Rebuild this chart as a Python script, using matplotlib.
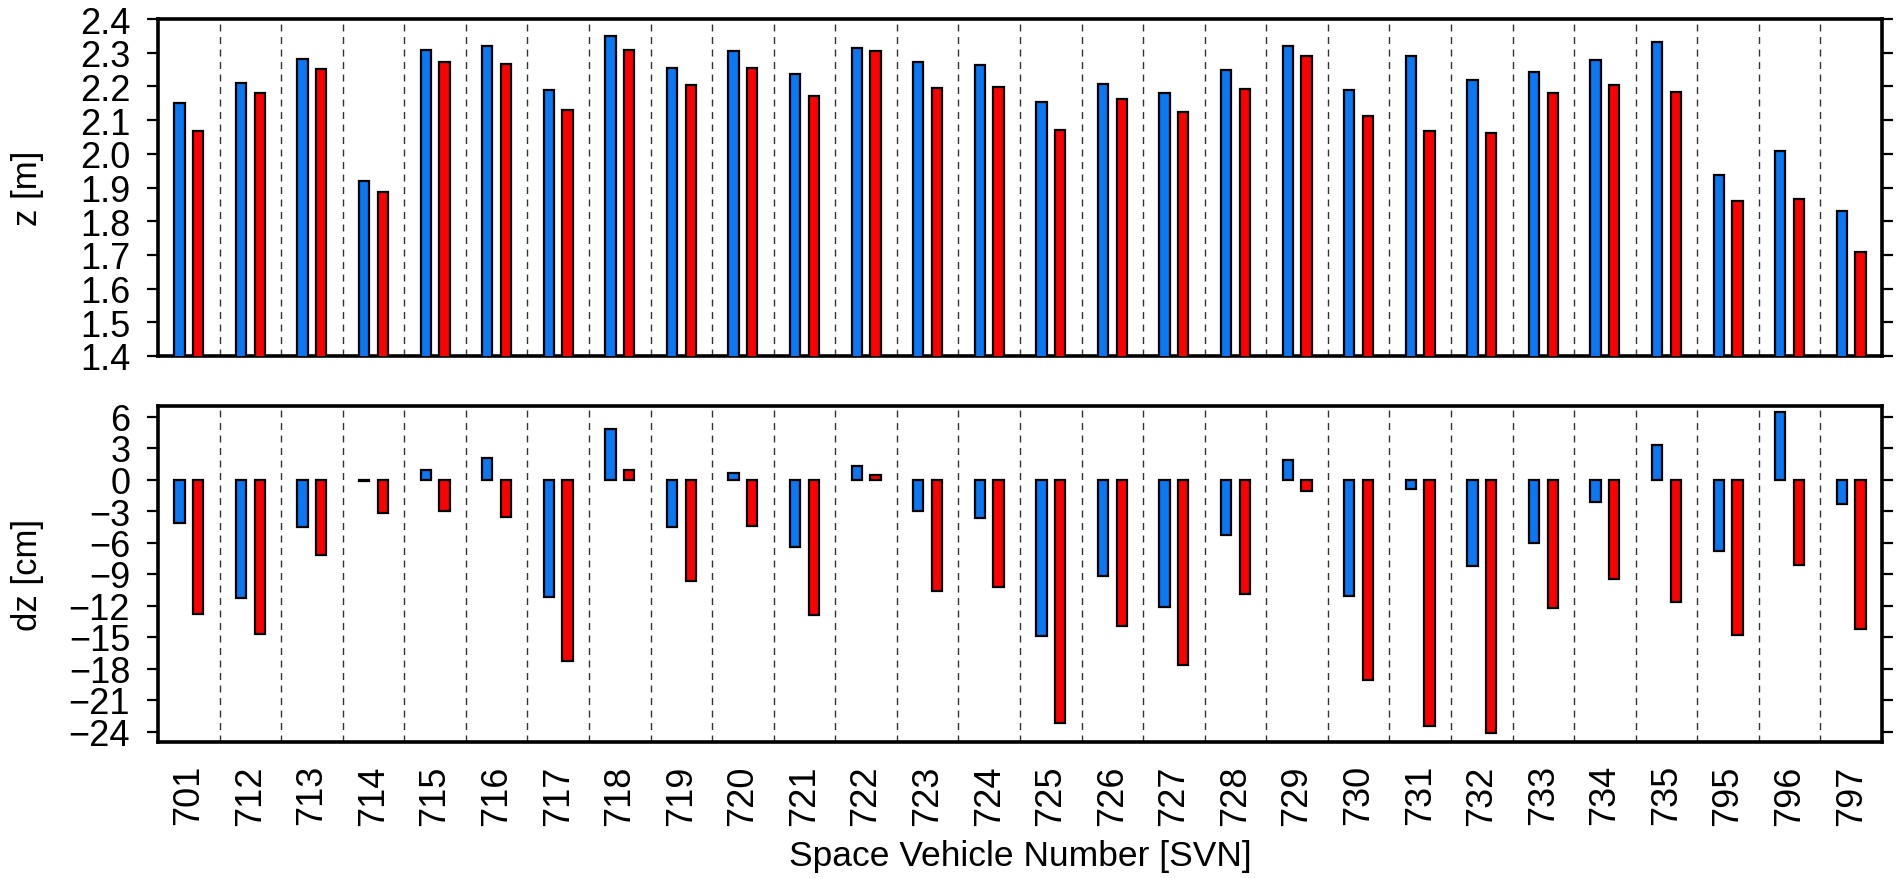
import matplotlib
matplotlib.use("Agg")
import matplotlib.pyplot as plt
import numpy as np

plt.rcParams['font.family'] = ['Liberation Sans', 'DejaVu Sans']

TICK_SIZE = 26

svn = ["701", "712", "713", "714", "715", "716", "717", "718", "719", "720",
       "721", "722", "723", "724", "725", "726", "727", "728", "729", "730",
       "731", "732", "733", "734", "735", "795", "796", "797"]

z_blue = [2.152, 2.210, 2.280, 1.919, 2.308, 2.321, 2.189, 2.349, 2.254, 2.306,
          2.236, 2.313, 2.271, 2.264, 2.154, 2.208, 2.180, 2.248, 2.319, 2.190,
          2.291, 2.219, 2.242, 2.278, 2.333, 1.938, 2.008, 1.831]
z_red = [2.068, 2.179, 2.253, 1.887, 2.271, 2.265, 2.129, 2.308, 2.203, 2.255,
         2.172, 2.304, 2.194, 2.198, 2.070, 2.163, 2.125, 2.191, 2.290, 2.111,
         2.068, 2.061, 2.179, 2.204, 2.184, 1.861, 1.865, 1.710]

dz_blue = [-4.18, -11.27, -4.56, -0.15, 0.89, 2.03, -11.2, 4.81, -4.56, 0.6,
           -6.46, 1.3, -3.0, -3.64, -14.9, -9.18, -12.15, -5.32, 1.87, -11.14,
           -0.95, -8.2, -6.08, -2.18, 3.32, -6.84, 6.46, -2.31]
dz_red = [-12.78, -14.75, -7.18, -3.2, -2.97, -3.54, -17.3, 0.92, -9.62, -4.46,
          -12.94, 0.4, -10.63, -10.22, -23.16, -13.92, -17.69, -10.92, -1.14, -19.1,
          -23.5, -24.1, -12.25, -9.49, -11.65, -14.84, -8.13, -14.27]

z_ticks = [1.4, 1.5, 1.6, 1.7, 1.8, 1.9, 2.0, 2.1, 2.2, 2.3, 2.4]
dz_ticks = [6, 3, 0, -3, -6, -9, -12, -15, -18, -21, -24]

BLUE = '#0A78F5'
RED = '#FF0000'

fig = plt.figure(figsize=(18.98, 8.79), dpi=100)
W = 1898.0
H = 879.0
left = 158 / W
width = (1882 - 158) / W
ax1 = fig.add_axes([left, 1 - 357 / H, width, (357 - 20) / H])
ax2 = fig.add_axes([left, 1 - 743 / H, width, (743 - 407) / H])

x = np.arange(len(svn))
bw = 0.165
off = 0.152

for ax, b, r in ((ax1, z_blue, z_red), (ax2, dz_blue, dz_red)):
    ax.bar(x - off, b, width=bw, color=BLUE, edgecolor='black', linewidth=1.6, zorder=3)
    ax.bar(x + off, r, width=bw, color=RED, edgecolor='black', linewidth=1.6, zorder=3)
    for i in range(len(svn) - 1):
        ax.axvline(i + 0.5, color='#333333', linewidth=1.0, linestyle=(0, (5, 4)), zorder=1)
    ax.set_xlim(-0.5, len(svn) - 0.5)
    for s in ax.spines.values():
        s.set_linewidth(2.6)
    ax.tick_params(axis='y', which='both', direction='out', length=8, width=1.6,
                   pad=12, left=True, right=True, labelsize=TICK_SIZE)
    ax.tick_params(axis='x', length=0)

ax1.set_ylim(1.4, 2.4)
ax1.set_yticks(z_ticks)
ax1.set_yticklabels([f"{v:.1f}" for v in z_ticks])
ax1.set_xticks(x)
ax1.set_xticklabels([])
ax1.set_ylabel("z [m]", fontsize=25, va='center')
ax1.yaxis.set_label_coords(-(158 - 27) / 1724, 0.5)

ax2.set_ylim(-25, 7)
ax2.set_yticks(dz_ticks)
ax2.set_yticklabels([f"{v:d}".replace('-', '\u2212') for v in dz_ticks])
ax2.set_xticks(x)
ax2.set_xticklabels(svn, rotation=90, fontsize=TICK_SIZE)
ax2.tick_params(axis='x', pad=16)
ax2.set_ylabel("dz [cm]", fontsize=25, va='center')
ax2.yaxis.set_label_coords(-(158 - 27) / 1724, 0.5)

fig.text(1020 / W, 1 - 857 / H, "Space Vehicle Number [SVN]", fontsize=25.5,
         ha='center', va='center')

fig.savefig("out.png", dpi=100)
